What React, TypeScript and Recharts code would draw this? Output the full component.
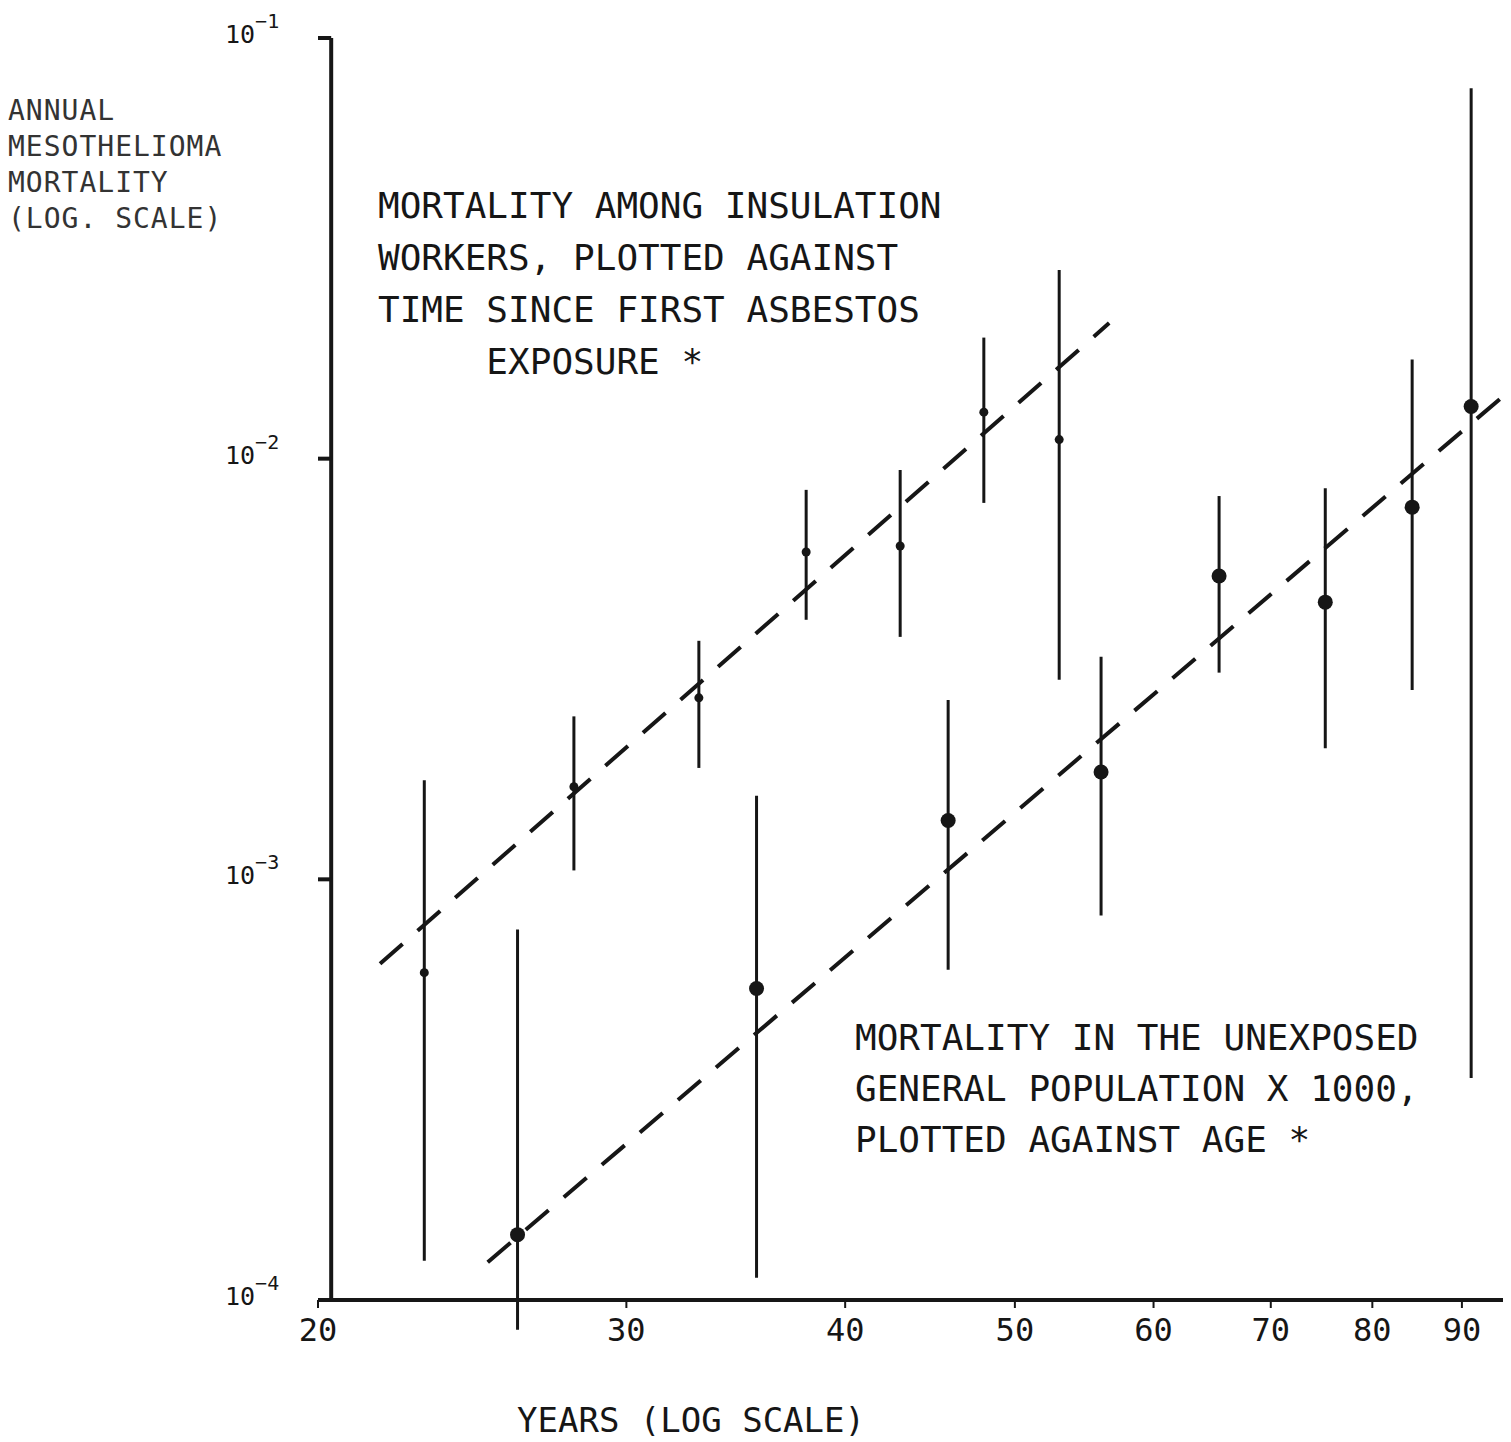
import React from 'react';
import { ComposedChart, Scatter, ErrorBar, XAxis, YAxis, ReferenceLine } from 'recharts';

// insulation workers, by years since first exposure
const exposureYears = [23, 28, 33, 38, 43, 48, 53];
const workerRate = [6.0e-4, 1.66e-3, 2.7e-3, 6.0e-3, 6.2e-3, 1.29e-2, 1.11e-2];
const workerLow = [1.24e-4, 1.05e-3, 1.84e-3, 4.14e-3, 3.77e-3, 7.85e-3, 2.98e-3];
const workerHigh = [1.72e-3, 2.44e-3, 3.69e-3, 8.43e-3, 9.4e-3, 1.94e-2, 2.81e-2];

// unexposed general population x 1000, by age
const ages = [26, 35.6, 45.8, 56, 65.4, 75.2, 84.3, 91.1];
const popRate = [1.43e-4, 5.5e-4, 1.38e-3, 1.8e-3, 5.26e-3, 4.56e-3, 7.67e-3, 1.33e-2];
const popLow = [8.5e-5, 1.13e-4, 6.1e-4, 8.2e-4, 3.1e-3, 2.05e-3, 2.82e-3, 3.37e-4];
const popHigh = [7.6e-4, 1.58e-3, 2.67e-3, 3.38e-3, 8.15e-3, 8.51e-3, 1.72e-2, 7.6e-2];

// fitted dashed lines (end points)
const workerFitYears = [21.7, 56.6];
const workerFitRate = [6.3e-4, 2.1e-2];
const popFitAges = [25, 96];
const popFitRate = [1.23e-4, 1.46e-2];

const xTicks = [20, 30, 40, 50, 60, 70, 80, 90];
const yTicks = [1e-4, 1e-3, 1e-2, 1e-1];
const yTickExp = ['−4', '−3', '−2', '−1'];

const withErr = (xs: number[], ys: number[], lo: number[], hi: number[]) =>
  xs.map((x, i) => ({ x, y: ys[i], err: [ys[i] - lo[i], hi[i] - ys[i]] }));

const toPoints = (xs: number[], ys: number[]) => xs.map((x, i) => ({ x, y: ys[i] }));

const workerData = withErr(exposureYears, workerRate, workerLow, workerHigh);
const popData = withErr(ages, popRate, popLow, popHigh);
const workerFit = toPoints(workerFitYears, workerFitRate);
const popFit = toPoints(popFitAges, popFitRate);

const INK = '#161616';
const MONO = '"DejaVu Sans Mono", monospace';

const YTick = (props: any) => {
  const { y, payload } = props;
  const idx = yTicks.indexOf(payload.value);
  return (
    <text x={217} y={y + 5} fill={INK} fontFamily={MONO} fontSize={25}>
      10
      <tspan dy={-15} fontSize={20}>{yTickExp[idx]}</tspan>
    </text>
  );
};

const SmallDot = (props: any) => <circle cx={props.cx} cy={props.cy} r={4.5} fill={INK} />;
const BigDot = (props: any) => <circle cx={props.cx} cy={props.cy} r={7.5} fill={INK} />;
const NoDot = () => <g />;

const noteStyle: React.CSSProperties = {
  position: 'absolute',
  fontFamily: MONO,
  fontSize: 36,
  lineHeight: '52px',
  color: INK,
  whiteSpace: 'pre',
};

export default function App() {
  return (
    <div style={{ position: 'relative', width: 1503, height: 1434, background: '#fff' }}>
      <ComposedChart width={1503} height={1434} margin={{ top: 30, right: 0, left: 0, bottom: 82 }}>
        <XAxis
          type="number"
          dataKey="x"
          scale="log"
          domain={[20, 96]}
          ticks={xTicks}
          allowDataOverflow
          axisLine={{ stroke: INK, strokeWidth: 4 }}
          tickLine={{ stroke: INK, strokeWidth: 2 }}
          tickSize={8}
          tickMargin={10}
          height={60}
          tick={{ fill: INK, fontFamily: MONO, fontSize: 32 }}
        />
        <YAxis
          type="number"
          dataKey="y"
          scale="log"
          domain={[1e-4, 1e-1]}
          ticks={yTicks}
          allowDataOverflow
          axisLine={false}
          tickLine={false}
          width={310}
          tick={<YTick />}
        />
        <ReferenceLine x={20.35} stroke={INK} strokeWidth={4} ifOverflow="visible" />
        {yTicks.map((v) => (
          <ReferenceLine
            key={v}
            segment={[{ x: 20, y: v }, { x: 20.35, y: v }]}
            stroke={INK}
            strokeWidth={4}
            ifOverflow="visible"
          />
        ))}
        <Scatter
          data={workerFit}
          shape={NoDot}
          line={{ stroke: INK, strokeWidth: 4, strokeDasharray: '30 20' }}
          isAnimationActive={false}
        />
        <Scatter
          data={popFit}
          shape={NoDot}
          line={{ stroke: INK, strokeWidth: 4, strokeDasharray: '30 20' }}
          isAnimationActive={false}
        />
        <Scatter data={workerData} shape={SmallDot} isAnimationActive={false}>
          <ErrorBar dataKey="err" direction="y" width={0} stroke={INK} strokeWidth={3} isAnimationActive={false} />
        </Scatter>
        <Scatter data={popData} shape={BigDot} isAnimationActive={false}>
          <ErrorBar dataKey="err" direction="y" width={0} stroke={INK} strokeWidth={3} isAnimationActive={false} />
        </Scatter>
      </ComposedChart>

      <div
        style={{
          position: 'absolute',
          left: 0,
          top: 85,
          fontFamily: MONO,
          fontSize: 28,
          lineHeight: '36px',
          letterSpacing: 1,
          color: '#333',
          whiteSpace: 'pre',
        }}
      >
        {'ANNUAL\nMESOTHELIOMA\nMORTALITY\n(LOG. SCALE)'}
      </div>

      <div style={{ ...noteStyle, left: 370, top: 172 }}>
        {'MORTALITY AMONG INSULATION\nWORKERS, PLOTTED AGAINST\nTIME SINCE FIRST ASBESTOS\n     EXPOSURE *'}
      </div>

      <div style={{ ...noteStyle, left: 847, top: 1004, lineHeight: '51px' }}>
        {'MORTALITY IN THE UNEXPOSED\nGENERAL POPULATION X 1000,\nPLOTTED AGAINST AGE *'}
      </div>

      <div
        style={{
          position: 'absolute',
          left: 509,
          top: 1392,
          fontFamily: MONO,
          fontSize: 34,
          lineHeight: '40px',
          color: INK,
          whiteSpace: 'pre',
        }}
      >
        YEARS (LOG SCALE)
      </div>
    </div>
  );
}
